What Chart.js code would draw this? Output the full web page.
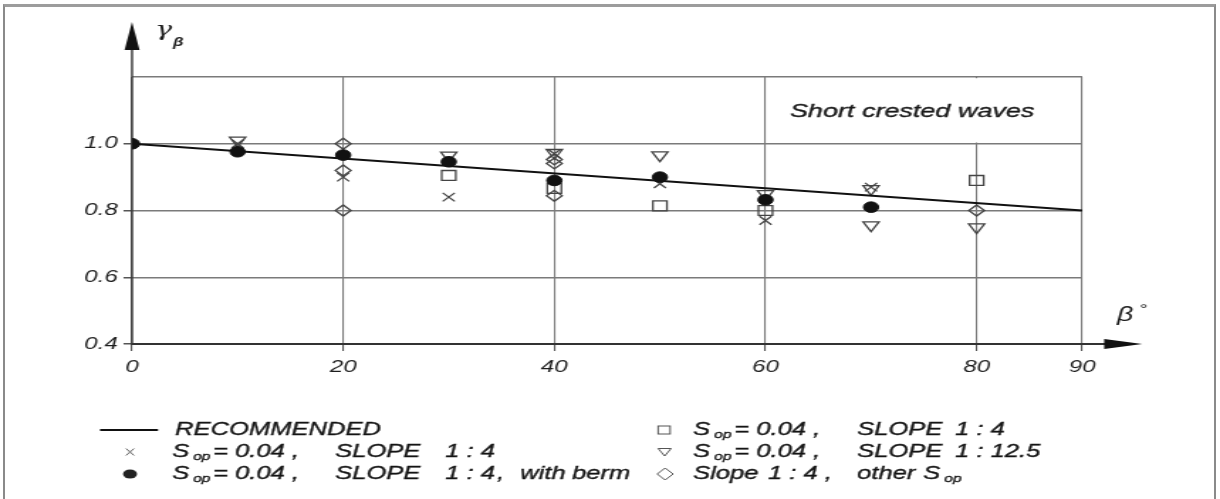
<!DOCTYPE html>
<html><head><meta charset="utf-8">
<script src="https://cdn.jsdelivr.net/npm/chart.js@4/dist/chart.umd.min.js"></script>
<style>
html,body{margin:0;padding:0;background:#fff;width:1220px;height:499px;overflow:hidden;}
#frame{position:absolute;left:3px;top:4px;width:1213px;height:520px;border-top:3px solid #9c9c9c;border-left:2px solid #8a8a8a;border-right:2px solid #8a8a8a;box-sizing:border-box;}
#c{position:absolute;left:0;top:0;}
</style></head><body>
<div id="frame"></div>
<canvas id="c" width="859" height="499" style="width:1220px;height:499px"></canvas>
<script>
// ---- data ----
const xTicks = [0, 20, 40, 60, 80, 90];
const yTicks = [0.4, 0.6, 0.8, 1.0, 1.2];
const yTickLabels = ['0.4', '0.6', '0.8', '1.0', ''];
const recommendedX = [0, 90];
const recommendedY = [1.0, 0.80];
const crossX = [10, 20, 30, 40, 50, 60, 70];
const crossY = [1.00, 0.90, 0.84, 0.97, 0.88, 0.77, 0.87];
const bermX = [0, 10, 20, 30, 40, 50, 60, 70];
const bermY = [1.00, 0.976, 0.966, 0.946, 0.89, 0.90, 0.832, 0.81];
const squareX = [30, 40, 50, 60, 80];
const squareY = [0.905, 0.866, 0.814, 0.80, 0.89];
const triX = [10, 30, 40, 50, 60, 70, 70, 80];
const triY = [1.01, 0.965, 0.973, 0.966, 0.85, 0.865, 0.756, 0.75];
const diaX = [20, 20, 20, 40, 40, 40, 80];
const diaY = [1.00, 0.92, 0.80, 0.953, 0.941, 0.844, 0.80];

// ---- layout helpers (canvas is drawn narrow and stretched horizontally) ----
const SX = 1.42;
const W = 859, H = 499;
const X = sx => sx / SX;
const FAM = '"Liberation Sans", Arial, Helvetica, sans-serif';
const pts = (xs, ys) => xs.map((v, i) => ({x: v, y: ys[i]}));

function seg(ctx, items, y) {
  items.forEach(([t, sx, sub]) => {
    ctx.font = sub ? 'italic 11px ' + FAM : 'italic 18px ' + FAM;
    const yy = sub ? y + 5 : y;
    ctx.fillText(t, X(sx), yy);
    ctx.strokeText(t, X(sx), yy);
  });
}

const decor = {
  id: 'decor',
  beforeDatasetsDraw(chart) {
    const {ctx, scales: {x, y}} = chart;
    ctx.save();
    // text box
    const l = x.getPixelForValue(60), r = x.getPixelForValue(90);
    const t = y.getPixelForValue(1.2), b = y.getPixelForValue(1.0);
    ctx.fillStyle = '#fff';
    ctx.fillRect(l + 1.2, t + 1.2, r - l - 2.4, b - t - 2.4);
    ctx.fillStyle = '#1a1a1a'; ctx.strokeStyle = '#1a1a1a'; ctx.lineWidth = 0.35;
    ctx.font = 'italic 19px ' + FAM;
    ctx.textAlign = 'center'; ctx.textBaseline = 'middle';
    ctx.fillText('Short crested waves', X(912), 112);
    ctx.strokeText('Short crested waves', X(912), 112);
    // axes with arrows
    const x0 = x.getPixelForValue(0), y0 = y.getPixelForValue(0.4);
    ctx.strokeStyle = '#333'; ctx.fillStyle = '#111';
    ctx.lineWidth = 1.4;
    ctx.beginPath(); ctx.moveTo(x0, y0 + 1); ctx.lineTo(x0, 40); ctx.stroke();
    ctx.lineWidth = 2;
    ctx.beginPath(); ctx.moveTo(x0, y0); ctx.lineTo(X(1120), y0); ctx.stroke();
    ctx.beginPath(); ctx.moveTo(x0, 22); ctx.lineTo(x0 - X(7.5), 50); ctx.lineTo(x0 + X(7.5), 50); ctx.closePath(); ctx.fill();
    ctx.beginPath(); ctx.moveTo(X(1142), y0); ctx.lineTo(X(1104), y0 - 5); ctx.lineTo(X(1104), y0 + 5); ctx.closePath(); ctx.fill();
    // axis titles
    ctx.fillStyle = '#1a1a1a';
    ctx.textAlign = 'left';
    ctx.font = 'italic 20px "DejaVu Serif", "Liberation Serif", serif';
    ctx.fillText('\u03b3', X(155), 31);
    ctx.font = 'italic bold 12px ' + FAM;
    ctx.fillText('\u03b2', X(173), 43);
    ctx.font = 'italic 20px ' + FAM;
    ctx.fillText('\u03b2', X(1117), 315);
    ctx.font = 'italic 14px ' + FAM;
    ctx.fillText('\u00b0', X(1139), 310);
    ctx.restore();
  },
  afterDraw(chart) {
    const ctx = chart.ctx;
    ctx.save();
    ctx.textAlign = 'left'; ctx.textBaseline = 'middle';
    const r1 = 430, r2 = 452, r3 = 474;
    // markers
    ctx.strokeStyle = '#111'; ctx.lineWidth = 2;
    ctx.beginPath(); ctx.moveTo(X(100), r1); ctx.lineTo(X(158), r1); ctx.stroke();
    ctx.strokeStyle = '#666'; ctx.lineWidth = 1;
    ctx.beginPath();
    ctx.moveTo(X(126), r2 - 3.5); ctx.lineTo(X(134), r2 + 3.5);
    ctx.moveTo(X(126), r2 + 3.5); ctx.lineTo(X(134), r2 - 3.5); ctx.stroke();
    ctx.fillStyle = '#222';
    ctx.beginPath(); ctx.ellipse(X(130), r3, X(7), 4.5, 0, 0, Math.PI * 2); ctx.fill();
    ctx.strokeStyle = '#555';
    ctx.strokeRect(X(658), r1 - 4, X(12), 8);
    ctx.beginPath(); ctx.moveTo(X(658), r2 - 3.5); ctx.lineTo(X(671), r2 - 3.5); ctx.lineTo(X(664.5), r2 + 4); ctx.closePath(); ctx.stroke();
    ctx.beginPath(); ctx.moveTo(X(657), r3); ctx.lineTo(X(665), r3 - 6); ctx.lineTo(X(673), r3); ctx.lineTo(X(665), r3 + 6); ctx.closePath(); ctx.stroke();
    // texts
    ctx.fillStyle = '#151515'; ctx.strokeStyle = '#151515'; ctx.lineWidth = 0.35;
    seg(ctx, [['RECOMMENDED', 175]], r1);
    const sop = [['S', 172], ['op', 193, true], ['= 0.04 ,', 213], ['SLOPE', 335], ['1 : 4', 445]];
    seg(ctx, sop, r2);
    seg(ctx, sop.concat([[',', 497], ['with', 520], ['berm', 572]]), r3);
    seg(ctx, [['S', 693], ['op', 714, true], ['= 0.04 ,', 734], ['SLOPE', 857], ['1 : 4', 955]], r1);
    seg(ctx, [['S', 693], ['op', 714, true], ['= 0.04 ,', 734], ['SLOPE', 857], ['1 : 12.5', 955]], r2);
    seg(ctx, [['Slope', 693], ['1 : 4 ,', 768], ['other', 857], ['S', 923], ['op', 944, true]], r3);
    ctx.restore();
  }
};

const hollow = 'rgba(0,0,0,0)';
new Chart(document.getElementById('c'), {
  type: 'scatter',
  data: {
    datasets: [
      {label: 'with berm', data: pts(bermX, bermY), pointStyle: 'circle', pointRadius: 5.3,
       backgroundColor: '#111', borderColor: '#111', borderWidth: 1, order: 0},
      {label: 'RECOMMENDED', type: 'line', data: pts(recommendedX, recommendedY), borderColor: '#111',
       borderWidth: 2, pointRadius: 0, fill: false, order: 1},
      {label: 'x', data: pts(crossX, crossY), pointStyle: 'crossRot', pointRadius: 6,
       borderColor: '#444', backgroundColor: hollow, borderWidth: 1.3, order: 2},
      {label: 'square', data: pts(squareX, squareY), pointStyle: 'rect', pointRadius: 7,
       borderColor: '#444', backgroundColor: hollow, borderWidth: 1.3, order: 3},
      {label: 'tri', data: pts(triX, triY), pointStyle: 'triangle', rotation: 180, pointRotation: 180, pointRadius: 6.5,
       borderColor: '#444', backgroundColor: hollow, borderWidth: 1.3, order: 4},
      {label: 'dia', data: pts(diaX, diaY), pointStyle: 'rectRot', pointRadius: 5.5,
       borderColor: '#444', backgroundColor: hollow, borderWidth: 1.3, order: 5}
    ]
  },
  options: {
    responsive: false, animation: false, devicePixelRatio: 1,
    layout: {padding: {left: 0, right: W - X(1082), top: 77, bottom: H - 344 - 40}},
    plugins: {legend: {display: false}, tooltip: {enabled: false}},
    scales: {
      x: {
        type: 'linear', min: 0, max: 90,
        afterBuildTicks: s => { s.ticks = xTicks.map(v => ({value: v})); },
        afterFit: s => { s.height = 40; },
        grid: {color: '#7a7a7a', lineWidth: 1.1, drawTicks: true, tickLength: 7, tickColor: '#555'},
        border: {display: false},
        ticks: {font: {family: FAM, size: 17, style: 'italic'}, color: '#1e1e1e', padding: 6,
                maxRotation: 0, autoSkip: false, callback: v => String(v)}
      },
      y: {
        type: 'linear', min: 0.4, max: 1.2,
        afterBuildTicks: s => { s.ticks = yTicks.map(v => ({value: v})); },
        afterFit: s => { s.width = X(132); },
        grid: {color: '#7a7a7a', lineWidth: 1.5, drawTicks: true, tickLength: 6,
               tickColor: c => (c.tick && c.tick.value > 1.1) ? 'rgba(0,0,0,0)' : '#555'},
        border: {display: false},
        ticks: {font: {family: FAM, size: 17, style: 'italic'}, color: '#1e1e1e', padding: 4,
                autoSkip: false, callback: (v, i) => yTickLabels[i]}
      }
    }
  },
  plugins: [decor]
});
</script>
</body></html>
